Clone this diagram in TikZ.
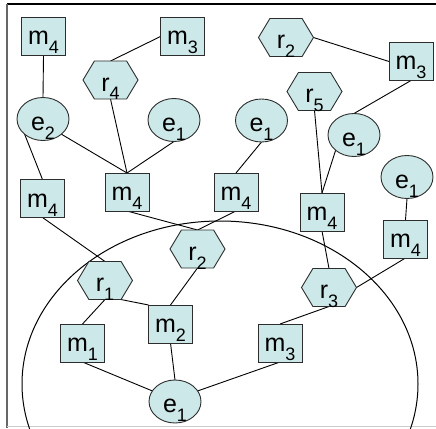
\documentclass[tikz,border=0pt]{standalone}
\usepackage{fontspec}
\setmainfont{Liberation Sans}
\usetikzlibrary{shapes.geometric,shapes.symbols,backgrounds}
\definecolor{nodefill}{RGB}{204,232,232}
\definecolor{nodeline}{RGB}{45,45,45}
\newcommand\lbl[2]{#1\raisebox{-9pt}{\fontsize{18pt}{18pt}\selectfont #2}}
\begin{document}
\begin{tikzpicture}[x=1pt,y=-1pt,
  base/.style={draw=nodeline, fill=nodefill, line width=0.9pt, inner sep=0pt, outer sep=0pt, font=\fontsize{25pt}{25pt}\selectfont},
  mbox/.style={base, rectangle, minimum width=44pt, minimum height=38pt, text height=19pt, text depth=2pt},
  ebox/.style={base, ellipse, minimum width=52pt, minimum height=43pt, text height=23pt, text depth=1pt},
  hbox/.style={base, signal, signal to=east and west, signal from=nowhere, signal pointer angle=118, minimum width=55pt, minimum height=38pt, text height=23pt, text depth=1pt},
  link/.style={line width=0.9pt, draw=black}]
\useasboundingbox (0,0) rectangle (436,428);
% frame
\draw[black, line width=1.2pt] (7,4) -- (436,4);
\draw[black!60, line width=1.5pt] (7,4) -- (7,428);
\draw[black!20, line width=0.8pt] (7,426.5) -- (436,426.5);
% big ellipse
\begin{scope}
\clip (0,0) rectangle (436,428);
\draw[line width=1pt] (220,384) ellipse [x radius=198, y radius=163];
\end{scope}
% nodes
\node[mbox] (m4a) at (43.5,36.5) {\lbl{m}{4}};
\node[mbox] (m3a) at (182.5,36.5) {\lbl{m}{3}};
\node[hbox] (r4) at (110.5,80) {\lbl{r}{4}};
\node[ebox] (e2) at (43,119) {\lbl{e}{2}};
\node[ebox] (e1a) at (174,120) {\lbl{e}{1}};
\node[mbox] (m4b) at (42.5,198.5) {\lbl{m}{4}};
\node[mbox] (m4c) at (127,192) {\lbl{m}{4}};
\node[ebox] (e1b) at (261.5,120.5) {\lbl{e}{1}};
\node[mbox] (m4d) at (236,192) {\lbl{m}{4}};
\node[hbox] (r2a) at (286,37.5) {\lbl{r}{2}};
\node[mbox] (m3b) at (411,61.5) {\lbl{m}{3}};
\node[hbox] (r5) at (314.5,91.5) {\lbl{r}{5}};
\node[ebox] (e1c) at (354,135) {\lbl{e}{1}};
\node[ebox] (e1d) at (407,177) {\lbl{e}{1}};
\node[mbox] (m4e) at (405.5,239) {\lbl{m}{4}};
\node[mbox] (m4f) at (322,212) {\lbl{m}{4}};
\node[hbox] (r3) at (329,287.5) {\lbl{r}{3}};
\node[mbox] (m3c) at (280,343) {\lbl{m}{3}};
\node[hbox] (r1) at (105,280.5) {\lbl{r}{1}};
\node[hbox] (r2b) at (197.5,249) {\lbl{r}{2}};
\node[mbox] (m2) at (170.5,324) {\lbl{m}{2}};
\node[mbox] (m1) at (82.5,343) {\lbl{m}{1}};
\node[ebox] (e1e) at (175,401.5) {\lbl{e}{1}};
% connectors
\begin{scope}[on background layer]
\draw[link] (m4a.south) -- (e2.north);
\draw[link] (m3a.west) -- (r4.north);
\draw[link] (r4.south) -- (m4c.north);
\draw[link] (e2.south east) -- (m4c.north);
\draw[link] (e1a.south) -- (m4c.north);
\draw[link] (e2.south west) -- (m4b.north);
\draw[link] (m4b.south) -- (r1.north);
\draw[link] (m4c.south) -- (r2b.north);
\draw[link] (m4d.south) -- (r2b.north);
\draw[link] (e1b.south) -- (m4d.north);
\draw[link] (r2a.east) -- (m3b.west);
\draw[link] (m3b.south) -- (e1c.north);
\draw[link] (r5.south) -- (m4f.north);
\draw[link] (e1c.south west) -- (m4f.north);
\draw[link] (e1d.south) -- (m4e.north);
\draw[link] (m4f.south) -- (r3.north);
\draw[link] (m4e.south) -- (r3.east);
\draw[link] (r3.south) -- (m3c.north);
\draw[link] (m3c.south) -- (e1e.25);
\draw[link] (m2.south) -- (e1e.north);
\draw[link] (m1.south) -- (e1e.155);
\draw[link] (r1.south) -- (m1.north);
\draw[link] (r1.-50) -- (m2.north west);
\draw[link] (r2b.south) -- (m2.north);
\end{scope}
\end{tikzpicture}
\end{document}
